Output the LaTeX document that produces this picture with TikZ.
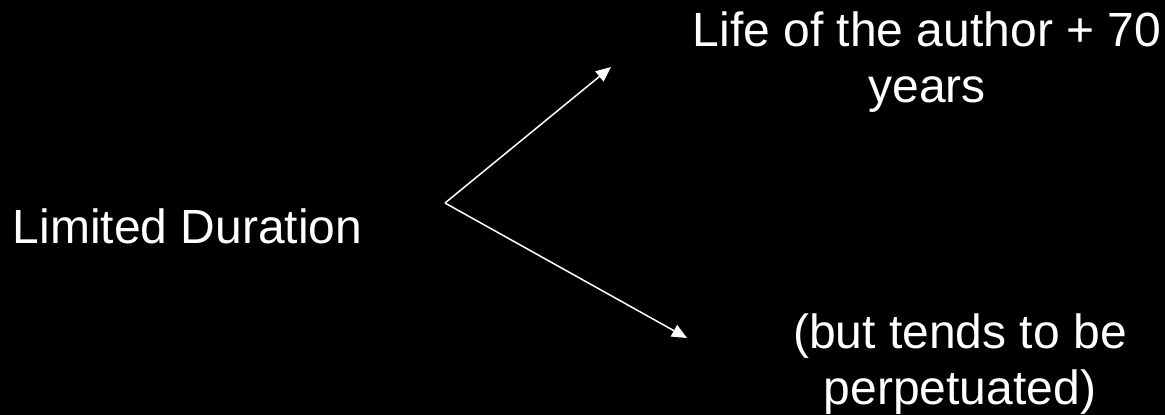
\documentclass[tikz,border=0pt]{standalone}
\usepackage{fontspec}
\setmainfont{Liberation Sans}
\usetikzlibrary{arrows.meta}
\begin{document}
\begin{tikzpicture}[x=1pt,y=-1pt,
  lbl/.style={text=white,inner sep=0pt,align=center,font=\fontsize{48}{56}\selectfont},
  conn/.style={draw=white,line width=1.5pt,-{Triangle[length=15pt,width=13pt]}}]
\fill[black] (0,0) rectangle (1165,415);
\useasboundingbox (0,0) rectangle (1165,415);
\node[lbl,anchor=base] (ld) at (187.5,243) {Limited Duration};
\node[lbl,anchor=base] (life) at (927,102) {Life of the author + 70\\years};
\node[lbl,anchor=base] (but) at (960,404) {(but tends to be\\perpetuated)};
\coordinate (v) at (445,203);
\coordinate (t1) at (611,67);
\coordinate (t2) at (687,338);
\draw[conn] (v) -- (t1);
\draw[conn] (v) -- (t2);
\end{tikzpicture}
\end{document}
